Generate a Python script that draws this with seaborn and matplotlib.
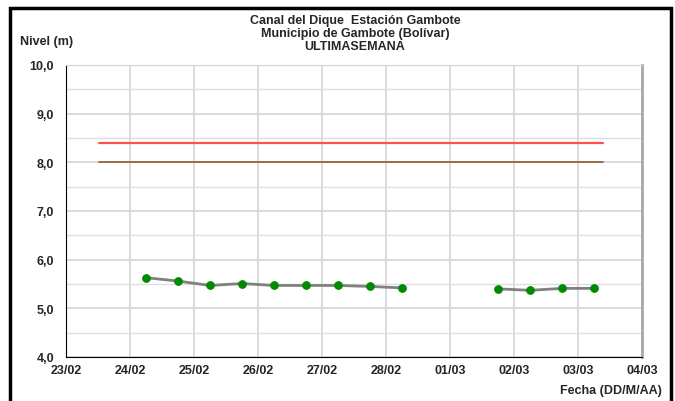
import pandas as pd
import seaborn as sns
import matplotlib.pyplot as plt
import matplotlib.dates as mdates
from matplotlib.patches import Rectangle
from matplotlib.ticker import MultipleLocator

# first stretch of readings (every 12 h)
dates_a = ["2023-02-24 06:00", "2023-02-24 18:00", "2023-02-25 06:00", "2023-02-25 18:00",
           "2023-02-26 06:00", "2023-02-26 18:00", "2023-02-27 06:00", "2023-02-27 18:00",
           "2023-02-28 06:00"]
nivel_a = [5.63, 5.56, 5.47, 5.51, 5.47, 5.47, 5.47, 5.45, 5.42]

# second stretch after the gap
dates_b = ["2023-03-01 18:00", "2023-03-02 06:00", "2023-03-02 18:00", "2023-03-03 06:00"]
nivel_b = [5.40, 5.37, 5.41, 5.41]

# reference levels
ref_dates = ["2023-02-23 12:30", "2023-03-03 09:20"]
alerta_roja = [8.4, 8.4]
alerta_naranja = [8.0, 8.0]

x_ticks = pd.date_range("2023-02-23", "2023-03-04", freq="D")

sns.set_style("white")
plt.rcParams["font.family"] = ["Liberation Sans", "DejaVu Sans"]

fig = plt.figure(figsize=(6.75, 4.02), dpi=100)
ax = fig.add_axes([66 / 675, 1 - 358 / 402, 576 / 675, 292 / 402])

ax.plot(pd.to_datetime(ref_dates), alerta_roja, color="#ff5050", lw=1.6, zorder=3)
ax.plot(pd.to_datetime(ref_dates), alerta_naranja, color="#8b5a2b", lw=1.2, zorder=3)

for d, v in [(dates_a, nivel_a), (dates_b, nivel_b)]:
    df = pd.DataFrame({"fecha": pd.to_datetime(d), "nivel": v})
    sns.lineplot(data=df, x="fecha", y="nivel", ax=ax, color="#808080", lw=2,
                 marker="o", markersize=5.5, markerfacecolor="#008a00",
                 markeredgecolor="#008a00", zorder=4)

ax.set_xlim(x_ticks[0], x_ticks[-1])
ax.set_ylim(4.0, 10.0)
ax.set_xticks(x_ticks)
ax.xaxis.set_major_formatter(mdates.DateFormatter("%d/%m"))
ax.yaxis.set_major_locator(MultipleLocator(1.0))
ax.yaxis.set_minor_locator(MultipleLocator(0.5))
ax.set_yticklabels([f"{t:.1f}".replace(".", ",") for t in ax.get_yticks()])

ax.grid(True, which="major", axis="both", color="#d4d4d4", lw=1.2)
ax.grid(True, which="minor", axis="y", color="#dedede", lw=1.0)
ax.set_axisbelow(True)

ax.tick_params(axis="both", which="major", direction="out", length=5, width=1,
               labelsize=9, color="black")
ax.tick_params(axis="x", which="major", length=3, pad=2)
ax.tick_params(axis="y", which="minor", length=0)
for lab in ax.get_xticklabels() + ax.get_yticklabels():
    lab.set_fontweight("bold")

ax.spines["left"].set_color("black")
ax.spines["bottom"].set_color("black")
ax.spines["top"].set_color("#d4d4d4")
ax.spines["right"].set_color("#a8a8a8")
ax.spines["right"].set_linewidth(2)
ax.set_xlabel("")
ax.set_ylabel("")

fig.text(355 / 675, 1 - 21 / 402, "Canal del Dique  Estación Gambote", ha="center",
         va="center", fontsize=9, fontweight="bold")
fig.text(355 / 675, 1 - 34 / 402, "Municipio de Gambote (Bolívar)", ha="center",
         va="center", fontsize=9, fontweight="bold")
fig.text(355 / 675, 1 - 47 / 402, "ULTIMASEMANA", ha="center",
         va="center", fontsize=9, fontweight="bold")
fig.text(20 / 675, 1 - 42 / 402, "Nivel (m)", ha="left", va="center",
         fontsize=9, fontweight="bold")
fig.text(662 / 675, 1 - 391 / 402, "Fecha (DD/M/AA)", ha="right", va="center",
         fontsize=9, fontweight="bold")

fig.patches.append(Rectangle((10 / 675, -0.05), 661 / 675, 1.05 - 9 / 402,
                             transform=fig.transFigure, fill=False,
                             edgecolor="black", lw=2.5))

fig.savefig("out.png", dpi=100)
